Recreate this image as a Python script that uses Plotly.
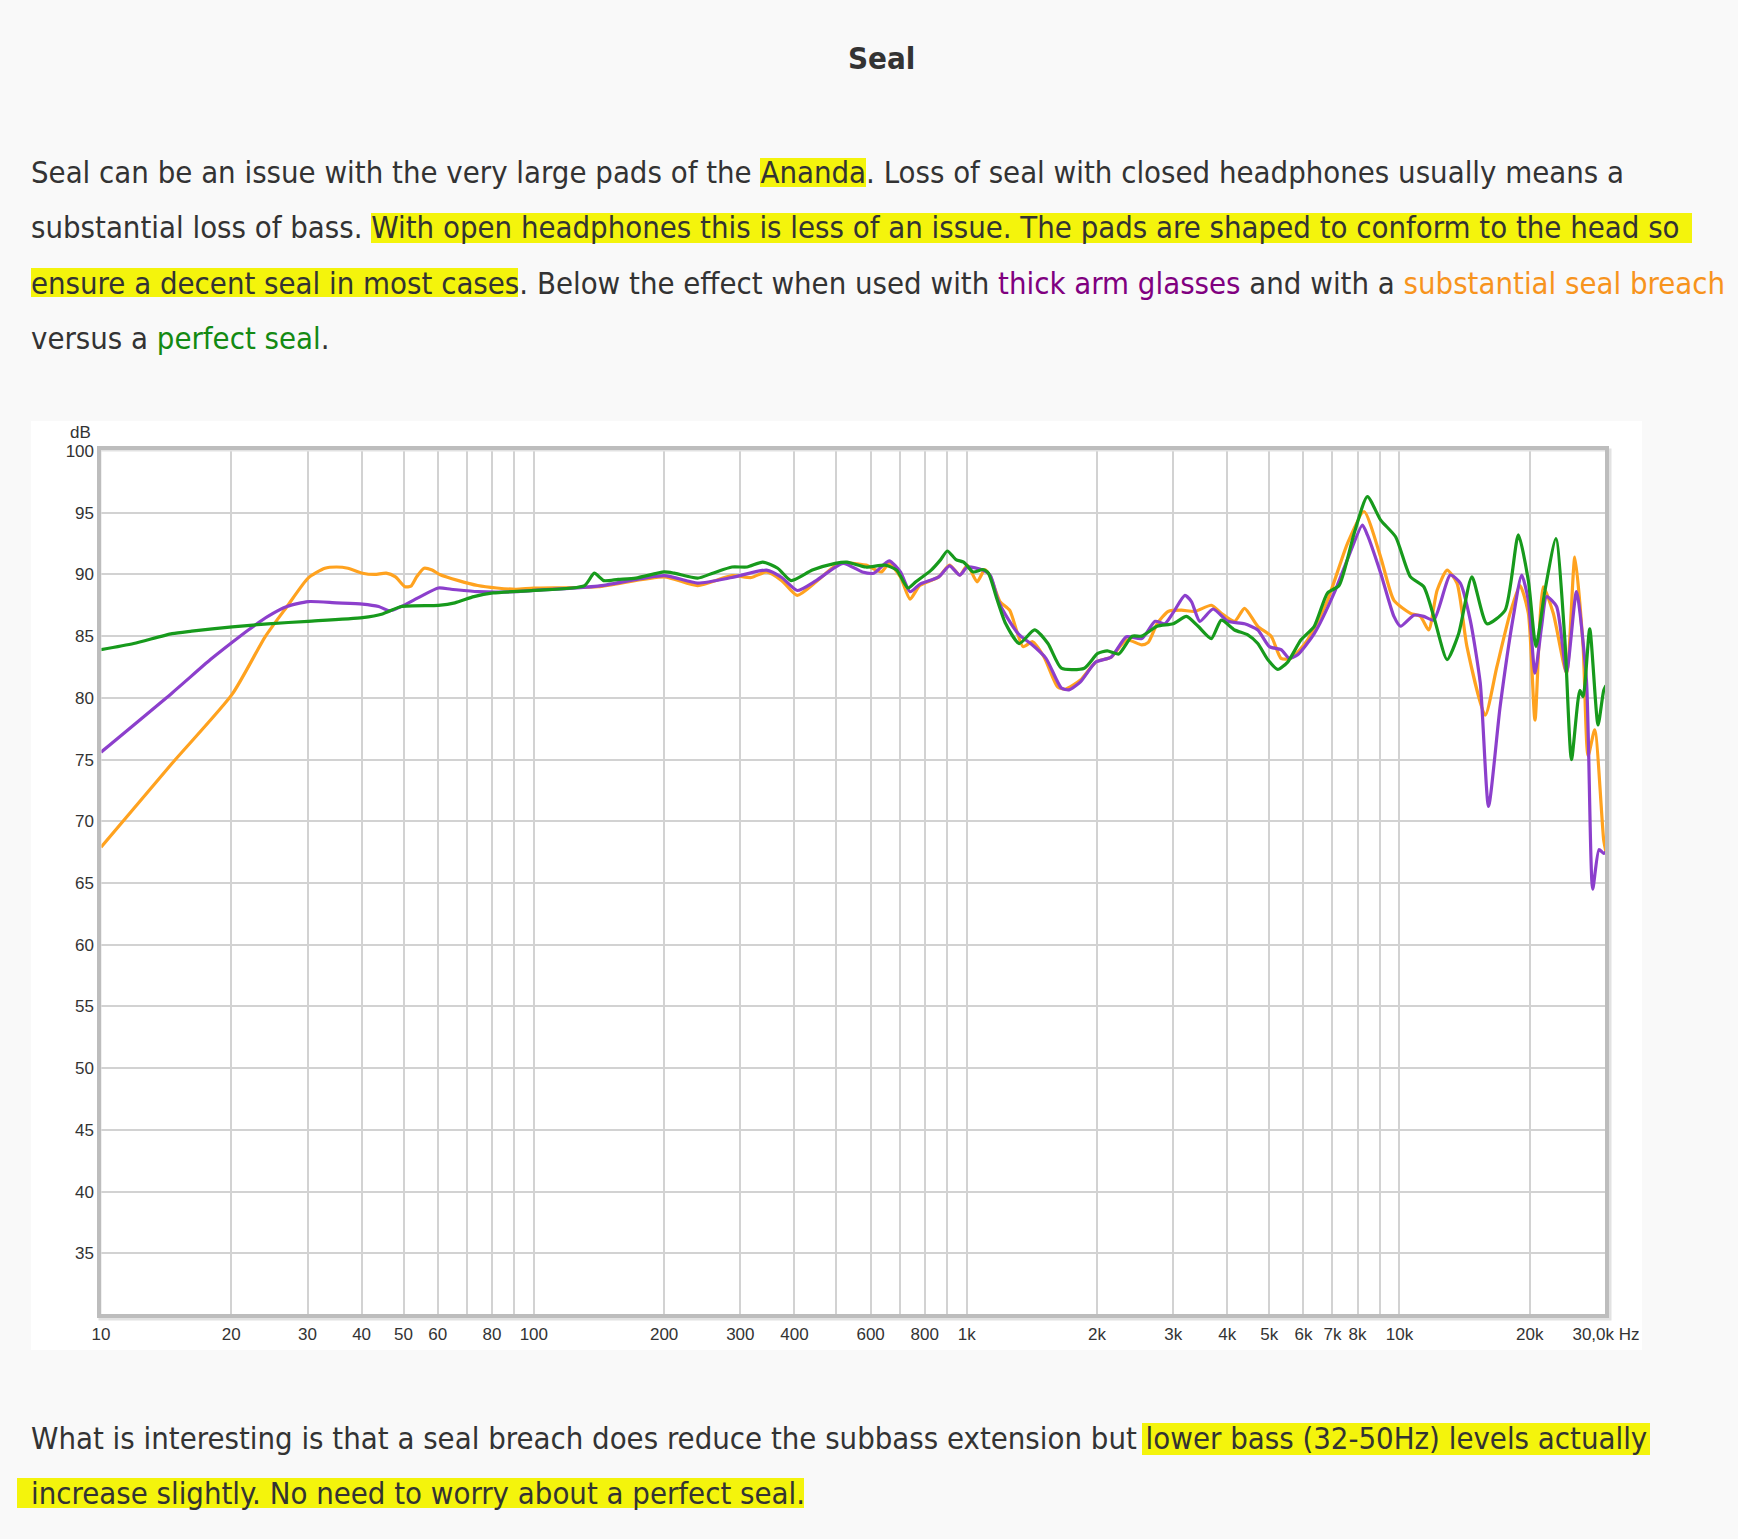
import math
import plotly.graph_objects as go

# ---------------- data ----------------
freq_breach = [10, 14.6, 20.1, 24.0, 26.9, 30.1, 32.9, 35.0, 37.2, 40.2, 42.9, 45.6, 47.9, 50.4, 52.0, 53.6,
               55.8, 58.2, 60.6, 67.0, 74.2, 82.1, 90.9, 100, 140.6, 200, 239, 287, 318, 345, 374, 406, 449,
               508, 585, 635, 662, 703, 740, 779, 862, 913, 964, 1004, 1057, 1101, 1135, 1194, 1257, 1350,
               1420, 1510, 1622, 1689, 1832, 1988, 2157, 2340, 2538, 2628, 2754, 2921, 3135, 3366, 3676,
               3876, 4159, 4385, 4706, 5052, 5326, 5615, 6135, 6819, 7580, 8281, 9048, 9708, 10603, 11180,
               11685, 12212, 12880, 13578, 14317, 15779, 16782, 18011, 18987, 19847, 20562, 21491, 22662,
               24316, 25415, 26562, 27275, 28252, 29632, 30000]
db_breach = [67.9, 74.7, 80.3, 85.0, 87.4, 89.7, 90.5, 90.6, 90.5, 90.1, 90.0, 90.1, 89.8, 89.0, 89.05, 89.8,
             90.5, 90.35, 90.0, 89.5, 89.1, 88.9, 88.8, 88.9, 89.0, 89.8, 89.1, 89.9, 89.75, 90.2, 89.5, 88.3,
             89.4, 90.9, 90.75, 90.2, 90.9, 89.8, 88.0, 89.1, 89.8, 90.75, 89.95, 90.75, 89.4, 90.4, 89.8,
             87.8, 87.1, 84.15, 84.55, 83.3, 80.9, 80.7, 81.45, 82.9, 83.3, 84.7, 84.3, 84.5, 86.0, 87.0, 87.1,
             87.0, 87.5, 86.85, 86.2, 87.25, 85.8, 85.0, 83.2, 83.2, 84.7, 87.9, 92.5, 95.1, 91.4, 87.9, 86.85,
             86.6, 85.5, 88.7, 90.35, 89.3, 84.15, 78.6, 82.5, 86.85, 89.1, 86.85, 78.2, 89.0, 86.85, 82.0,
             91.4, 84.15, 75.3, 77.4, 68.5, 67.5]

freq_glasses = [10, 14.6, 17.9, 20.1, 21.9, 24.3, 26.9, 30.1, 35.0, 40.2, 43.8, 46.5, 49.4, 54.7, 60.2, 64.4,
                74.2, 90.9, 100, 140.6, 200, 239, 287, 345, 374, 406, 449, 518, 574, 610, 662, 703, 740, 779,
                862, 913, 964, 1004, 1090, 1135, 1182, 1231, 1323, 1406, 1525, 1655, 1724, 1832, 1988, 2157,
                2340, 2538, 2726, 2868, 3000, 3193, 3306, 3457, 3709, 4014, 4385, 4706, 5006, 5326, 5565, 5819,
                6354, 7066, 7580, 8208, 8430, 9048, 9708, 10056, 10792, 11379, 11998, 13107, 13819, 14571,
                15368, 16058, 17082, 18327, 19155, 19847, 20562, 21300, 21873, 23064, 24316, 25639, 27035,
                27950, 28900, 29632, 30000]
db_glasses = [75.6, 80.4, 83.1, 84.5, 85.5, 86.6, 87.4, 87.8, 87.7, 87.6, 87.4, 87.05, 87.4, 88.2, 88.9, 88.8,
              88.6, 88.6, 88.7, 89.05, 89.9, 89.3, 89.75, 90.35, 89.75, 88.7, 89.5, 90.9, 90.2, 90.1, 91.1,
              90.2, 88.6, 89.2, 89.8, 90.7, 89.95, 90.6, 90.35, 89.9, 87.9, 86.7, 85.1, 84.4, 83.2, 80.8, 80.65,
              81.3, 82.9, 83.3, 84.95, 84.8, 86.2, 86.0, 86.9, 88.3, 87.8, 86.2, 87.2, 86.2, 86.0, 85.5, 84.15,
              83.9, 83.2, 83.5, 85.2, 88.5, 91.2, 94.0, 93.2, 90.1, 86.6, 85.8, 86.7, 86.6, 86.3, 89.95, 89.3,
              86.3, 81.2, 71.2, 79.3, 86.6, 89.95, 87.9, 82.0, 85.8, 88.2, 87.4, 82.0, 88.6, 81.45, 64.5, 67.7,
              67.4, 67.5]

freq_perfect = [10, 11.9, 14.6, 16.2, 20.1, 24.3, 30.1, 40.2, 44.7, 49.4, 60.2, 65.7, 72.7, 80.5, 100, 131,
                137.9, 145, 156.6, 172, 200, 211, 239, 259, 287, 311, 338, 366, 393, 440, 497, 529, 585, 648,
                689, 732, 763, 828, 871, 902, 945, 984, 1035, 1090, 1123, 1170, 1231, 1323, 1435, 1541, 1655,
                1870, 2008, 2113, 2246, 2412, 2538, 2754, 3000, 3219, 3426, 3676, 3876, 4159, 4463, 4706, 4962,
                5232, 5517, 5922, 6354, 6819, 7251, 7853, 8430, 9048, 9795, 10603, 11379, 11998, 12880, 13698,
                14700, 15917, 17540, 18818, 19847, 20671, 21680, 22983, 24104, 24967, 26096, 26562, 27516,
                28755, 29632, 30000]
db_perfect = [83.9, 84.4, 85.2, 85.4, 85.75, 86.0, 86.2, 86.5, 86.8, 87.4, 87.5, 87.7, 88.2, 88.5, 88.7, 89.1,
              90.1, 89.5, 89.6, 89.7, 90.2, 90.1, 89.7, 90.1, 90.6, 90.6, 91.0, 90.5, 89.5, 90.35, 90.9, 91.0,
              90.6, 90.75, 90.35, 88.9, 89.4, 90.35, 91.2, 91.9, 91.2, 91.0, 90.2, 90.4, 90.1, 88.2, 86.0, 84.4,
              85.5, 84.4, 82.4, 82.4, 83.6, 83.8, 83.55, 85.0, 85.0, 85.8, 86.0, 86.6, 85.8, 84.8, 86.3, 85.5,
              85.1, 84.4, 83.1, 82.3, 82.9, 84.7, 85.8, 88.5, 89.1, 93.3, 96.3, 94.4, 93.05, 89.8, 89.0, 86.6,
              83.1, 85.2, 89.8, 86.0, 87.1, 93.2, 89.5, 84.15, 88.7, 92.9, 84.7, 75.0, 80.6, 80.1, 85.6, 77.8,
              80.6, 81.0]

x_grid_vals = [10, 20, 30, 40, 50, 60, 70, 80, 90, 100, 200, 300, 400, 500, 600, 700, 800, 900,
               1000, 2000, 3000, 4000, 5000, 6000, 7000, 8000, 9000, 10000, 20000, 30000]
x_tick_text = ["10", "20", "30", "40", "50", "60", "", "80", "", "100", "200", "300", "400", "", "600", "",
               "800", "", "1k", "2k", "3k", "4k", "5k", "6k", "7k", "8k", "", "10k", "20k", "30,0k Hz"]
y_grid_vals = [30, 35, 40, 45, 50, 55, 60, 65, 70, 75, 80, 85, 90, 95, 100]
y_tick_text = ["", "35", "40", "45", "50", "55", "60", "65", "70", "75", "80", "85", "90", "95", "100"]

# ---------------- layout helpers ----------------
W, H = 1738, 1539
PL, PR, PT, PB = 101, 1606, 451, 1315


def px(x):
    return x / W


def py(y):
    return 1 - y / H


C_BREACH = "#ffa21f"
C_GLASSES = "#8c3fcc"
C_PERFECT = "#179a1c"

fig = go.Figure()
for f, d, c, name in [(freq_breach, db_breach, C_BREACH, "substantial seal breach"),
                      (freq_glasses, db_glasses, C_GLASSES, "thick arm glasses"),
                      (freq_perfect, db_perfect, C_PERFECT, "perfect seal")]:
    fig.add_trace(go.Scatter(x=f, y=d, mode="lines", name=name,
                             line=dict(color=c, width=3.2, shape="spline", smoothing=0.6)))

tickfont = dict(family="Liberation Sans, Arial, sans-serif", size=17, color="#333333")
fig.update_layout(
    width=W, height=H, margin=dict(l=0, r=0, t=0, b=0),
    paper_bgcolor="#f9f9f9", plot_bgcolor="white", showlegend=False,
    xaxis=dict(type="log", range=[1, math.log10(30000)], domain=[px(PL), px(PR)],
               tickmode="array", tickvals=x_grid_vals, ticktext=x_tick_text,
               showgrid=True, gridcolor="#d2d2d2", gridwidth=1.5, zeroline=False, showline=False,
               ticks="", tickfont=tickfont, automargin=False, ticklabelstandoff=7),
    yaxis=dict(range=[30, 100], domain=[py(PB), py(PT)],
               tickmode="array", tickvals=y_grid_vals, ticktext=y_tick_text,
               showgrid=True, gridcolor="#d2d2d2", gridwidth=1.5, zeroline=False, showline=False,
               ticks="", tickfont=tickfont, automargin=False, ticklabelstandoff=6),
)

shapes = []
# white chart card
shapes.append(dict(type="rect", xref="paper", yref="paper", x0=px(31), x1=px(1642), y0=py(1350), y1=py(421),
                   fillcolor="white", line=dict(width=0), layer="below"))
# frame shadow + frame
shapes.append(dict(type="rect", xref="paper", yref="paper", x0=px(PL - 1), x1=px(PR + 4), y0=py(PB + 4),
                   y1=py(PT - 1), line=dict(color="#e2e2e2", width=3), fillcolor="rgba(0,0,0,0)", layer="above"))
shapes.append(dict(type="rect", xref="paper", yref="paper", x0=px(PL - 2), x1=px(PR + 1), y0=py(PB + 1),
                   y1=py(PT - 3), line=dict(color="#bdbdbd", width=4), fillcolor="rgba(0,0,0,0)", layer="above"))

# highlighter strokes
HL = "#f4f40c"
for (x0, x1, y0, y1) in [(760, 866, 158, 187), (371, 1692, 213, 243), (31, 518, 268, 297),
                         (1142, 1650, 1423, 1455), (17, 804, 1478, 1508)]:
    shapes.append(dict(type="rect", xref="paper", yref="paper", x0=px(x0), x1=px(x1), y0=py(y1), y1=py(y0),
                       fillcolor=HL, line=dict(width=0), layer="below"))
fig.update_layout(shapes=shapes)

TXT = "#333333"
FONT = "Tahoma, 'DejaVu Sans Condensed', Verdana, sans-serif"
ann = []
ann.append(dict(text="<b>Seal</b>", x=px(881), y=py(58), xanchor="center", yanchor="middle",
                font=dict(family=FONT, size=31, color=TXT)))
lines = [
    ("Seal can be an issue with the very large pads of the Ananda. Loss of seal with closed headphones usually means a", 172),
    ("substantial loss of bass. With open headphones this is less of an issue. The pads are shaped to conform to the head so", 227),
    ("ensure a decent seal in most cases. Below the effect when used with <span style='color:#800080'>thick arm glasses</span> and with a <span style='color:#f7941d'>substantial seal breach</span>", 283),
    ("versus a <span style='color:#138a13'>perfect seal</span>.", 338),
    ("What is interesting is that a seal breach does reduce the subbass extension but lower bass (32-50Hz) levels actually", 1438),
    ("increase slightly. No need to worry about a perfect seal.", 1493),
]
for t, yy in lines:
    ann.append(dict(text=t, x=px(29), y=py(yy), xanchor="left", yanchor="middle",
                    font=dict(family=FONT, size=30.8, color=TXT)))
ann.append(dict(text="dB", x=px(93), y=py(432), xanchor="right", yanchor="middle",
                font=tickfont))
for a in ann:
    a.update(xref="paper", yref="paper", showarrow=False)
fig.update_layout(annotations=ann)

fig.write_html("out.html")
